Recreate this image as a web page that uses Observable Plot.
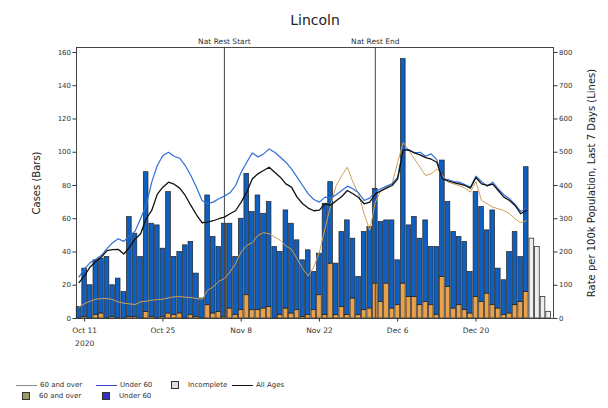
<!DOCTYPE html>
<html><head><meta charset="utf-8">
<script src="https://cdn.jsdelivr.net/npm/d3@7"></script>
<script src="https://cdn.jsdelivr.net/npm/@observablehq/plot@0.6"></script>
<style>
body{margin:0;background:#fff;font-family:"DejaVu Sans",sans-serif;}
#wrap{position:relative;width:608px;height:408px;overflow:hidden;}
#legend{position:absolute;left:16px;top:381px;display:grid;grid-template-columns:80px 69px 67px 60px;row-gap:3px;font-size:7px;color:#333;}
#legend .it{display:flex;align-items:center;gap:3px;white-space:nowrap;}
#legend .ln{display:inline-block;width:21px;height:0;border-top:1.2px solid #888;}
#legend .sw{display:inline-block;width:6px;height:6px;border:1px solid #333;margin:0 6px 0 6px;}
</style></head><body>
<div id="wrap"><div id="chart"></div><div id="legend"></div></div>
<script>
const startDay = "2020-10-10";
// daily case totals (bars), Oct 10 – Dec 29
const casesTotal = [7,30,20,35,36,37,20,24,16,61,51,37,88,57,56,42,76,37,40,44,46,27,12,74,49,43,57,57,37,60,87,64,74,63,70,43,40,65,57,47,35,41,28,39,69,82,33,52,59,48,25,52,55,78,58,59,59,35,156,56,61,48,59,43,43,95,70,52,49,46,28,76,67,53,65,30,23,40,52,37,91];
// 60 and over portion of each bar
const casesOver60 = [0,1,0,2,3,0,1,0,0,1,1,0,4,1,0,1,3,2,3,0,2,1,0,8,3,4,1,6,2,5,14,5,5,6,7,0,2,6,3,5,1,2,5,14,2,33,2,7,2,12,2,5,6,21,10,21,6,8,21,13,13,8,10,8,2,25,19,6,8,5,3,13,10,15,8,6,2,3,8,10,16];
// incomplete days Dec 30 – Jan 2
const casesIncomplete = [48,43,13,4];
// rates per 100k, last 7 days
const rateAllAges = [108,130,155,172,185,204,207,208,194,214,239,254,300,325,374,395,410,404,392,370,340,312,288,290,294,300,305,315,324,350,380,420,435,445,455,440,425,405,395,365,345,332,324,326,345,341,354,367,385,375,364,345,350,375,384,392,400,420,508,506,498,492,484,479,470,420,414,409,405,400,392,424,405,400,404,385,365,355,340,315,325];
const rateUnder60 = [125,150,168,178,190,210,228,240,232,248,262,300,340,410,460,490,500,488,482,460,430,395,355,345,350,360,368,378,400,440,470,498,486,495,510,500,485,470,450,425,400,375,358,350,365,362,372,385,398,390,378,355,362,382,390,398,405,425,512,508,498,500,488,495,478,420,418,412,410,403,395,428,412,398,410,390,372,360,343,322,330];
const rateOver60 = [35,45,52,58,60,60,57,50,46,44,42,50,52,55,57,58,62,65,66,64,63,60,58,85,95,112,120,140,165,200,220,228,250,258,255,245,235,218,208,180,150,128,155,200,270,340,400,430,455,410,375,315,265,350,385,395,405,470,530,505,480,455,430,435,450,430,410,405,400,392,380,412,355,345,335,330,325,315,300,288,294];
const tickDates = ["2020-10-11","2020-10-25","2020-11-08","2020-11-22","2020-12-06","2020-12-20"];
const tickLabels = ["Oct 11\n2020","Oct 25","Nov 8","Nov 22","Dec 6","Dec 20"];
const eventDates = ["2020-11-05","2020-12-02"];
const eventLabels = ["Nat Rest Start","Nat Rest End"];
const caseTicks = [0,20,40,60,80,100,120,140,160];
const rateTicks = [0,100,200,300,400,500,600,700,800];
const title = "Lincoln";

const C = {under: "#0f5fc0", over: "#e8a24e", inc: "#eeeeee", lineAll: "#111111", lineUnder: "#2f6fd8", lineOver: "#cfa05a"};
const start = new Date(startDay);
const day = i => d3.utcDay.offset(start, i);
const bars = casesTotal.map((t, i) => ({date: day(i), total: t, over: casesOver60[i]}));
const inc = casesIncomplete.map((t, i) => ({date: day(casesTotal.length + i), total: t}));
const lines = rateAllAges.map((v, i) => ({date: day(i), all: v, under: rateUnder60[i], over: rateOver60[i]}));
const events = eventDates.map((d, i) => ({date: new Date(d), label: eventLabels[i]}));
const ticks = tickDates.map(d => new Date(d));
const fmt = new Map(ticks.map((d, i) => [+d, tickLabels[i]]));
const lo = d => d3.utcHour.offset(d.date, -10), hi = d => d3.utcHour.offset(d.date, 10);
const ratio = 5;

const chart = Plot.plot({
  width: 608, height: 362,
  marginTop: 47, marginBottom: 44, marginLeft: 76, marginRight: 55,
  style: {fontFamily: "DejaVu Sans, sans-serif", fontSize: "7px", color: "#333", background: "#fff"},
  x: {type: "utc", domain: [d3.utcHour.offset(start, -11), d3.utcHour.offset(day(84), 21)]},
  y: {domain: [0, 163]},
  marks: [
    Plot.rectY(bars, {x1: lo, x2: hi, y1: 0, y2: "over", fill: C.over, stroke: "#222", strokeWidth: 0.7}),
    Plot.rectY(bars, {x1: lo, x2: hi, y1: "over", y2: "total", fill: C.under, stroke: "#222", strokeWidth: 0.7}),
    Plot.rectY(inc, {x1: lo, x2: hi, y1: 0, y2: "total", fill: C.inc, stroke: "#333", strokeWidth: 0.8}),
    Plot.ruleX(events, {x: "date", stroke: "#444", strokeWidth: 1}),
    Plot.text(events, {x: "date", text: "label", frameAnchor: "top", dy: -9, fontSize: 7.5, fill: "#333"}),
    Plot.line(lines, {x: "date", y: d => d.over / ratio, stroke: C.lineOver, strokeWidth: 1}),
    Plot.line(lines, {x: "date", y: d => d.under / ratio, stroke: C.lineUnder, strokeWidth: 1.2}),
    Plot.line(lines, {x: "date", y: d => d.all / ratio, stroke: C.lineAll, strokeWidth: 1.3}),
    Plot.frame({stroke: "#333", strokeWidth: 0.9}),
    Plot.text([title], {frameAnchor: "top", dy: -32, fontSize: 14, fill: "#222"}),
    Plot.axisX({ticks, tickFormat: d => fmt.get(+d), tickSize: 3.5, tickPadding: 2, fontSize: 7.5, lineHeight: 1.7, label: null}),
    Plot.axisY({ticks: caseTicks, tickSize: 3.5, tickPadding: 2, fontSize: 7, label: null}),
    Plot.axisY({anchor: "right", ticks: rateTicks.map(v => v / ratio), tickFormat: v => String(Math.round(v * ratio)), tickSize: 3.5, tickPadding: 2, fontSize: 7, label: null}),
    Plot.text(["Rate per 100k Population, Last 7 Days (Lines)"], {frameAnchor: "right", textAnchor: "middle", dx: 38, rotate: -90, fontSize: 10, fill: "#222"}),
    Plot.text(["Cases (Bars)"], {frameAnchor: "left", textAnchor: "middle", dx: -40, rotate: -90, fontSize: 10, fill: "#222"})
  ]
});
document.getElementById("chart").appendChild(chart);

const legendItems = [
  {kind: "line", color: "#888", label: "60 and over"},
  {kind: "line", color: "#3346c8", label: "Under 60"},
  {kind: "box", color: "#dddddd", label: "Incomplete"},
  {kind: "line", color: "#111", label: "All Ages"},
  {kind: "box", color: "#9c9a66", label: "60 and over"},
  {kind: "box", color: "#3333bb", label: "Under 60"}
];
const lg = document.getElementById("legend");
legendItems.forEach(it => {
  const el = document.createElement("div");
  el.className = "it";
  const s = document.createElement("span");
  s.className = it.kind === "line" ? "ln" : "sw";
  if (it.kind === "line") s.style.borderTopColor = it.color; else s.style.background = it.color;
  el.appendChild(s);
  const t = document.createElement("span");
  t.textContent = it.label;
  el.appendChild(t);
  lg.appendChild(el);
});
</script>
</body></html>
